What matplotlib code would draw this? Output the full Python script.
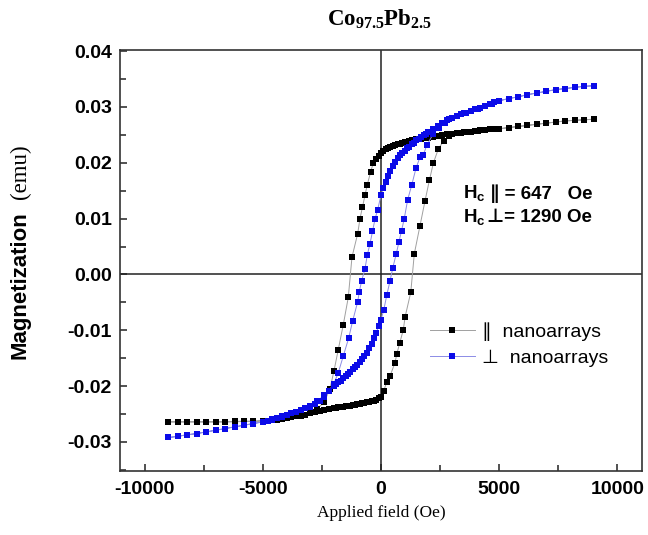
import matplotlib
matplotlib.use("Agg")
import matplotlib.pyplot as plt
from matplotlib.ticker import MultipleLocator, FormatStrFormatter

# parallel nanoarrays, field sweep down (+9000 -> -9000)
par_down_h = [9000, 8600, 8200, 7800, 7400, 7000, 6600, 6200, 5800, 5400,
              5000, 4800, 4600, 4400, 4200, 4000, 3800, 3600, 3400, 3200,
              3000, 2800, 2600, 2400, 2200, 2000, 1900, 1800, 1700, 1600,
              1500, 1400, 1300, 1200, 1100, 1000, 900, 800, 700, 600,
              500, 400, 300, 200, 100, 0, -100, -200, -326, -436,
              -580, -678, -792, -890, -987, -1229, -1385, -1597, -1809, -1992,
              -2161, -2400, -2700, -3000, -3400, -3800, -4200, -4600, -5000, -5400,
              -5800, -6200, -6600, -7000, -7400, -7800, -8200, -8600, -9000]
par_down_m = [0.0278, 0.0277, 0.0276, 0.0275, 0.0273, 0.0271, 0.0269, 0.0267, 0.0265, 0.0263,
              0.0261, 0.0260, 0.0260, 0.0259, 0.0258, 0.0257, 0.0256, 0.0255, 0.0254, 0.0253,
              0.0252, 0.0251, 0.0249, 0.0248, 0.0246, 0.0245, 0.0244, 0.0244, 0.0243, 0.0243,
              0.0242, 0.0241, 0.0240, 0.0239, 0.0238, 0.0237, 0.0236, 0.0234, 0.0233, 0.0231,
              0.0230, 0.0228, 0.0226, 0.0224, 0.0221, 0.0218, 0.0213, 0.0206, 0.0200, 0.0184,
              0.0161, 0.0142, 0.0120, 0.0100, 0.0073, 0.0031, -0.0041, -0.0090, -0.0135, -0.0173,
              -0.0205, -0.0228, -0.0241, -0.0249, -0.0253, -0.0256, -0.0259, -0.0261, -0.0262, -0.0263,
              -0.0263, -0.0264, -0.0264, -0.0264, -0.0264, -0.0264, -0.0264, -0.0264, -0.0264]

# parallel nanoarrays, field sweep up (-9000 -> +9000)
par_up_h = [-9000, -8600, -8200, -7800, -7400, -7000, -6600, -6200, -5800, -5400,
            -5000, -4800, -4600, -4400, -4200, -4000, -3800, -3600, -3400, -3200,
            -3000, -2800, -2600, -2400, -2200, -2000, -1900, -1800, -1700, -1600,
            -1500, -1400, -1300, -1200, -1100, -1000, -900, -800, -700, -600,
            -500, -400, -300, -200, -100, 0, 120, 240, 381, 593,
            665, 800, 945, 1020, 1260, 1410, 1650, 1860, 2050, 2220,
            2430, 2650, 2900, 3200, 3500, 3800, 4100, 4400, 4700, 5000,
            5400, 5800, 6200, 6600, 7000, 7400, 7800, 8200, 8600, 9000]
par_up_m = [-0.0264, -0.0264, -0.0264, -0.0264, -0.0264, -0.0264, -0.0264, -0.0263, -0.0263, -0.0263,
            -0.0262, -0.0262, -0.0261, -0.0260, -0.0259, -0.0257, -0.0256, -0.0254, -0.0253, -0.0251,
            -0.0249, -0.0247, -0.0245, -0.0243, -0.0241, -0.0240, -0.0239, -0.0238, -0.0238, -0.0237,
            -0.0236, -0.0235, -0.0235, -0.0234, -0.0233, -0.0232, -0.0232, -0.0231, -0.0230, -0.0229,
            -0.0228, -0.0227, -0.0226, -0.0224, -0.0222, -0.0219, -0.0208, -0.0193, -0.0182, -0.0158,
            -0.0143, -0.0122, -0.0099, -0.0076, -0.0032, 0.0037, 0.0087, 0.0131, 0.0169, 0.0200,
            0.0225, 0.0239, 0.0248, 0.0253, 0.0255, 0.0256, 0.0257, 0.0259, 0.0260, 0.0261,
            0.0263, 0.0265, 0.0267, 0.0269, 0.0271, 0.0273, 0.0275, 0.0276, 0.0277, 0.0278]

# perpendicular nanoarrays, field sweep down
perp_down_h = [9000, 8600, 8200, 7800, 7400, 7000, 6600, 6200, 5800, 5400,
               5000, 4800, 4600, 4400, 4200, 4000, 3800, 3600, 3400, 3200,
               3000, 2800, 2600, 2400, 2200, 2000, 1900, 1800, 1700, 1600,
               1500, 1400, 1300, 1200, 1100, 1000, 900, 800, 700, 600,
               500, 400, 300, 200, 100, 0, -140, -254, -360, -466,
               -580, -678, -818, -919, -987, -1199, -1369, -1597, -1809, -2000,
               -2200, -2400, -2700, -3000, -3400, -3800, -4200, -4600, -5000, -5400,
               -5800, -6200, -6600, -7000, -7400, -7800, -8200, -8600, -9000]
perp_down_m = [0.0338, 0.0337, 0.0335, 0.0333, 0.0331, 0.0328, 0.0325, 0.0322, 0.0318, 0.0315,
               0.0311, 0.0308, 0.0305, 0.0302, 0.0299, 0.0296, 0.0293, 0.0290, 0.0287, 0.0284,
               0.0280, 0.0276, 0.0271, 0.0265, 0.0260, 0.0255, 0.0252, 0.0250, 0.0247, 0.0243,
               0.0240, 0.0236, 0.0233, 0.0229, 0.0226, 0.0222, 0.0218, 0.0214, 0.0208, 0.0202,
               0.0195, 0.0186, 0.0177, 0.0166, 0.0155, 0.0142, 0.0116, 0.0099, 0.0077, 0.0055,
               0.0035, 0.0010, -0.0011, -0.0031, -0.0049, -0.0083, -0.0114, -0.0146, -0.0176, -0.0196,
               -0.0208, -0.0216, -0.0227, -0.0235, -0.0243, -0.0249, -0.0254, -0.0259, -0.0264, -0.0267,
               -0.0270, -0.0273, -0.0276, -0.0279, -0.0282, -0.0285, -0.0287, -0.0290, -0.0292]

# perpendicular nanoarrays, field sweep up
perp_up_h = [-9000, -8600, -8200, -7800, -7400, -7000, -6600, -6200, -5800, -5400,
             -5000, -4800, -4600, -4400, -4200, -4000, -3800, -3600, -3400, -3200,
             -3000, -2800, -2600, -2400, -2200, -2000, -1900, -1800, -1700, -1600,
             -1500, -1400, -1300, -1200, -1100, -1000, -900, -800, -700, -600,
             -500, -400, -300, -200, -100, 0, 120, 250, 380, 500,
             640, 760, 870, 980, 1130, 1300, 1480, 1650, 1790, 1935,
             2200, 2450, 2700, 2900, 3200, 3500, 3800, 4100, 4400, 4700,
             5000, 5400, 5800, 6200, 6600, 7000, 7400, 7800, 8200, 8600, 9000]
perp_up_m = [-0.0292, -0.0290, -0.0287, -0.0285, -0.0282, -0.0279, -0.0276, -0.0273, -0.0270, -0.0267,
             -0.0264, -0.0262, -0.0260, -0.0257, -0.0255, -0.0251, -0.0248, -0.0246, -0.0243, -0.0240,
             -0.0237, -0.0232, -0.0226, -0.0219, -0.0208, -0.0200, -0.0197, -0.0193, -0.0190, -0.0186,
             -0.0182, -0.0178, -0.0174, -0.0170, -0.0166, -0.0162, -0.0157, -0.0151, -0.0146, -0.0140,
             -0.0132, -0.0124, -0.0114, -0.0104, -0.0093, -0.0081, -0.0063, -0.0036, -0.0012, 0.0012,
             0.0036, 0.0058, 0.0078, 0.0099, 0.0134, 0.0160, 0.0190, 0.0210, 0.0214, 0.0231,
             0.0251, 0.0263, 0.0272, 0.0278, 0.0284, 0.0289, 0.0293, 0.0297, 0.0302, 0.0306,
             0.0311, 0.0315, 0.0318, 0.0322, 0.0325, 0.0328, 0.0331, 0.0333, 0.0335, 0.0337, 0.0338]

x_ticks = [-10000, -5000, 0, 5000, 10000]
y_ticks = [-0.03, -0.02, -0.01, 0.00, 0.01, 0.02, 0.03, 0.04]

plt.rcParams['axes.unicode_minus'] = False
sans = ['Liberation Sans', 'DejaVu Sans']
serif = ['Liberation Serif', 'DejaVu Serif']

fig = plt.figure(figsize=(6.48, 5.35), dpi=100)
ax = fig.add_axes([120/648, 64/535, 522/648, 421/535])

ax.axhline(0, color='#222222', lw=1.1, zorder=1)
ax.axvline(0, color='#222222', lw=1.1, zorder=1)

ax.plot(par_down_h + par_up_h, par_down_m + par_up_m, color='#a0a0a0', lw=0.7,
        marker='s', ms=4.9, mfc='black', mec='black', mew=0,
        label='\u2225  nanoarrays', zorder=3)
ax.plot(perp_down_h + perp_up_h, perp_down_m + perp_up_m, color='#8c8ce6', lw=0.7,
        marker='s', ms=4.9, mfc='#0b0be8', mec='#0b0be8', mew=0,
        label='\u22a5  nanoarrays', zorder=4)

ax.set_xlim(-11050, 11050)
ax.set_ylim(-0.0352, 0.0402)
ax.set_xticks(x_ticks)
ax.set_yticks(y_ticks)
ax.xaxis.set_minor_locator(MultipleLocator(2500))
ax.yaxis.set_minor_locator(MultipleLocator(0.005))
ax.yaxis.set_major_formatter(FormatStrFormatter('%.2f'))
ax.xaxis.set_major_formatter(FormatStrFormatter('%d'))
ax.tick_params(which='both', direction='in', top=False, right=False, width=1.1, color='#222222')
ax.tick_params(which='major', length=5)
ax.tick_params(which='minor', length=4)
ax.tick_params(axis='x', pad=7)
ax.tick_params(axis='y', pad=6)
for lab in ax.get_xticklabels() + ax.get_yticklabels():
    lab.set_fontfamily(sans)
    lab.set_fontweight('bold')
    lab.set_fontsize(14)
for sp in ax.spines.values():
    sp.set_linewidth(1.2)
    sp.set_color('#333333')

leg = ax.legend(loc='upper left', bbox_to_anchor=(430/648, 1 - 322/535),
                bbox_transform=fig.transFigure, frameon=False,
                prop={'family': sans, 'size': 14}, handlelength=2.3,
                handletextpad=0.4, labelspacing=0.45, borderpad=0, borderaxespad=0)

# coercivity note
fig.text(463/648, 1 - 194/535, 'H$_\\mathregular{c}$', family=sans, weight='bold',
         size=13.5, va='center', ha='left')
fig.text(490/648, 1 - 194/535, '\u2225 = 647   Oe', family=sans, weight='bold',
         size=13.5, va='center', ha='left')
fig.text(463/648, 1 - 218/535, 'H$_\\mathregular{c}$', family=sans, weight='bold',
         size=13.5, va='center', ha='left')
fig.text(487/648, 1 - 218/535, '\u22a5= 1290 Oe', family=sans, weight='bold',
         size=13.5, va='center', ha='left')

fig.text(380/648, 1 - 19/535, 'Co$_\\mathregular{97.5}$Pb$_\\mathregular{2.5}$',
         family=serif, weight='bold', size=16.5, ha='center', va='center')
fig.text(381/648, 1 - 513/535, 'Applied field (Oe)', family=serif, size=12.5,
         ha='center', va='center')
fig.text(20/648, 1 - 285/535, 'Magnetization', family=sans, weight='bold', size=16,
         rotation=90, ha='center', va='center')
fig.text(20/648, 1 - 172/535, '(emu)', family=serif, size=16.5,
         rotation=90, ha='center', va='center')

fig.savefig('out.png', dpi=100)
